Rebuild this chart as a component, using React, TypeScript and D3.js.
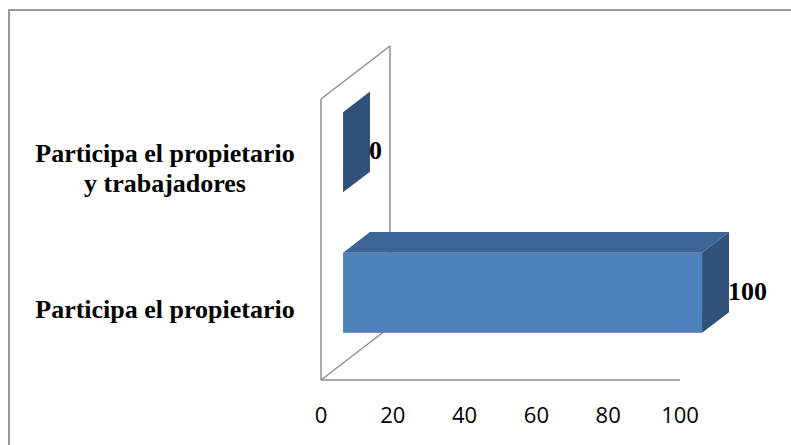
import React from "react";
import * as d3 from "d3";

// Categories listed top to bottom, with their percentages
const categories: string[][] = [
  ["Participa el propietario", "y trabajadores"],
  ["Participa el propietario"],
];
const categoryKeys = ["ambos", "propietario"];
const values = [0, 100];
const tickValues = [0, 20, 40, 60, 80, 100];

const W = 791;
const H = 445;

// Front plane of the 3D plot and its depth vector
const left = 321;
const right = 680;
const top = 99;
const bottom = 380;
const depth = { dx: 69, dy: -53 };
// Bars sit in the middle slice of the depth
const barStart = 0.32;
const barDepth = 0.39;

const FRONT = "#4F81BD";
const TOP = "#3D6596";
const SIDE = "#30517A";
const WALL = "#8E8E8E";

export default function App() {
  const x = d3.scaleLinear().domain([0, 100]).range([left, right]);
  const y = d3
    .scaleBand<string>()
    .domain(categoryKeys)
    .range([top, bottom])
    .paddingInner(0.43)
    .paddingOuter(0.215);

  const ox = depth.dx * barStart;
  const oy = depth.dy * barStart;
  const bx = depth.dx * barDepth;
  const by = depth.dy * barDepth;
  const bw = y.bandwidth();

  const pts = (p: [number, number][]) => p.map((d) => d.join(",")).join(" ");

  return (
    <svg
      width={W}
      height={H}
      style={{ position: "absolute", left: 0, top: 0, background: "#fff" }}
    >
      {/* outer frame */}
      <rect x={9} y={10} width={900} height={600} fill="none" stroke="#9a9a9a" strokeWidth={2} />

      {/* side wall, back wall edge and floor */}
      <g stroke={WALL} strokeWidth={1.5} fill="none">
        <line x1={left} y1={top} x2={left} y2={bottom} />
        <line x1={left} y1={top} x2={left + depth.dx} y2={top + depth.dy} />
        <line x1={left + depth.dx} y1={top + depth.dy} x2={left + depth.dx} y2={bottom + depth.dy} />
        <line x1={left} y1={bottom} x2={left + depth.dx} y2={bottom + depth.dy} />
        <line x1={left} y1={bottom} x2={right} y2={bottom} />
      </g>

      {/* bars */}
      {categoryKeys.map((k, i) => {
        const x0 = x(0) + ox;
        const x1 = x(values[i]) + ox;
        const y0 = (y(k) as number) + oy;
        const y1 = y0 + bw;
        return (
          <g key={k}>
            {x1 > x0 && <rect x={x0} y={y0} width={x1 - x0} height={bw} fill={FRONT} />}
            {x1 > x0 && (
              <polygon
                points={pts([
                  [x0, y0],
                  [x1, y0],
                  [x1 + bx, y0 + by],
                  [x0 + bx, y0 + by],
                ])}
                fill={TOP}
              />
            )}
            <polygon
              points={pts([
                [x1, y0],
                [x1 + bx, y0 + by],
                [x1 + bx, y1 + by],
                [x1, y1],
              ])}
              fill={SIDE}
            />
            <text
              x={x1 + bx - 1}
              y={(y0 + y1) / 2 + 7}
              fontFamily="'Liberation Serif', 'Times New Roman', serif"
              fontWeight="bold"
              fontSize={26}
              fill="#000"
            >
              {values[i]}
            </text>
          </g>
        );
      })}

      {/* category labels, centred on each band of the front plane */}
      {categoryKeys.map((k, i) => {
        const lines = categories[i];
        const cy = (y(k) as number) + bw / 2;
        const lh = 30;
        const firstBaseline = cy + 8 - ((lines.length - 1) * lh) / 2;
        return (
          <text
            key={k}
            x={165}
            textAnchor="middle"
            fontFamily="'Liberation Serif', 'Times New Roman', serif"
            fontWeight="bold"
            fontSize={26}
            fill="#000"
          >
            {lines.map((l, j) => (
              <tspan key={j} x={165} y={firstBaseline + j * lh}>
                {l}
              </tspan>
            ))}
          </text>
        );
      })}

      {/* value axis labels */}
      {tickValues.map((t) => (
        <text
          key={t}
          x={x(t)}
          y={423}
          textAnchor="middle"
          fontFamily="'Open Sans', sans-serif"
          fontSize={22}
          fill="#000"
        >
          {t}
        </text>
      ))}
    </svg>
  );
}
